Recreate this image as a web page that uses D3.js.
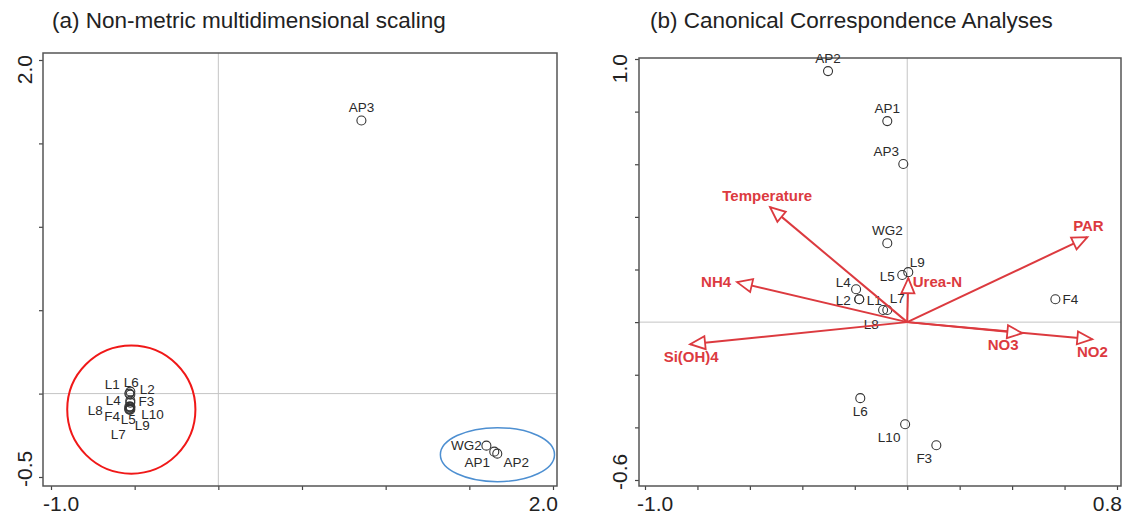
<!DOCTYPE html>
<html lang="en">
<head>
    <meta charset="UTF-8">
    <script src="https://d3js.org/d3.v7.min.js"></script>
    <style>
        body { margin: 0; background: #fff; }
        text { font-family: "Liberation Sans", Arial, sans-serif; }
    </style>
</head>
<body>
    <svg id="chart" width="1125" height="517"></svg>
    <script>
        // (a) NMDS – sample scores and where their labels sit
        const nmdsSites  = ["AP3", "WG2", "AP1", "AP2", "L1", "L6", "L2", "L4", "F3", "L8", "F4", "L5", "L10", "L9", "L7"];
        const nmdsX      = [0.855, 1.602, 1.649, 1.667, -0.532, -0.526, -0.526, -0.526, -0.526, -0.532, -0.532, -0.526, -0.526, -0.532, -0.526];
        const nmdsY      = [1.637, -0.312, -0.348, -0.360, 0.000, 0.012, -0.006, -0.042, -0.054, -0.078, -0.090, -0.084, -0.096, -0.096, -0.078];
        const nmdsLabelX = [0.855, 1.482, 1.548, 1.781, -0.634, -0.520, -0.424, -0.628, -0.430, -0.735, -0.634, -0.538, -0.394, -0.454, -0.598];
        const nmdsLabelY = [1.715, -0.312, -0.414, -0.414, 0.054, 0.066, 0.024, -0.042, -0.048, -0.102, -0.138, -0.156, -0.126, -0.192, -0.246];
        const nmdsXTicks = [-1.0, -0.5, 0.0, 0.5, 1.0, 1.5, 2.0];
        const nmdsYTicks = [-0.5, 0.0, 0.5, 1.0, 1.5, 2.0];
        const nmdsXTickLabels = ["-1.0", "2.0"];
        const nmdsYTickLabels = ["-0.5", "2.0"];

        // groups circled by hand in (a)
        const groupNames = ["lake", "pond"];
        const groupCX = [-0.520, 1.668];
        const groupCY = [-0.096, -0.366];
        const groupRX = [0.383, 0.341];
        const groupRY = [0.384, 0.162];

        // (b) CCA – sample scores
        const ccaSites  = ["AP2", "AP1", "AP3", "WG2", "L9", "L5", "L4", "L2", "L1", "L7", "L8", "L6", "L10", "F3", "F4"];
        const ccaX      = [-0.302, -0.076, -0.015, -0.076, 0.004, -0.019, -0.195, -0.183, -0.092, -0.076, -0.183, -0.179, -0.008, 0.111, 0.565];
        const ccaY      = [0.954, 0.764, 0.601, 0.300, 0.190, 0.179, 0.125, 0.087, 0.046, 0.046, 0.087, -0.289, -0.388, -0.468, 0.087];
        const ccaLabelX = [-0.302, -0.076, -0.080, -0.076, 0.038, -0.076, -0.244, -0.244, -0.126, -0.038, -0.137, -0.179, -0.069, 0.065, 0.622];
        const ccaLabelY = [1.004, 0.814, 0.650, 0.350, 0.228, 0.175, 0.152, 0.084, 0.084, 0.091, -0.008, -0.338, -0.437, -0.517, 0.087];

        // (b) environmental vectors
        const envVars   = ["Temperature", "PAR", "NH4", "Urea-N", "Si(OH)4", "NO3", "NO2"];
        const envX      = [-0.523, 0.687, -0.649, 0.004, -0.828, 0.439, 0.706];
        const envY      = [0.437, 0.323, 0.152, 0.167, -0.084, -0.042, -0.065];
        const envLabelX = [-0.534, 0.691, -0.729, 0.115, -0.824, 0.366, 0.706];
        const envLabelY = [0.479, 0.365, 0.152, 0.152, -0.133, -0.087, -0.114];
        const ccaXTicks = [-1.0, -0.8, -0.6, -0.4, -0.2, 0.0, 0.2, 0.4, 0.6, 0.8];
        const ccaYTicks = [-0.6, -0.4, -0.2, 0.0, 0.2, 0.4, 0.6, 0.8, 1.0];
        const ccaXTickLabels = ["-1.0", "0.8"];
        const ccaYTickLabels = ["-0.6", "1.0"];

        const red = "#dc3a3f";
        const svg = d3.select("#chart");

        function panel(opt) {
            const g = svg.append("g");
            const x = d3.scaleLinear().domain(opt.xDomain).range(opt.xRange);
            const y = d3.scaleLinear().domain(opt.yDomain).range(opt.yRange);
            const b = opt.box;

            svg.append("text")
                .attr("x", opt.titleX).attr("y", 28)
                .style("font-size", "22.5px").attr("fill", "#222")
                .text(opt.title);

            // zero lines
            g.append("line")
                .attr("x1", x(0)).attr("x2", x(0)).attr("y1", b.top).attr("y2", b.bottom)
                .attr("stroke", "#c4c4c4").attr("stroke-width", 1);
            g.append("line")
                .attr("x1", b.left).attr("x2", b.right).attr("y1", y(0)).attr("y2", y(0))
                .attr("stroke", "#c4c4c4").attr("stroke-width", 1);

            // ticks
            const ax = g.append("g")
                .attr("transform", `translate(0,${b.bottom})`)
                .call(d3.axisBottom(x).tickValues(opt.xTicks).tickSize(4).tickFormat(""));
            const ay = g.append("g")
                .attr("transform", `translate(${b.left},0)`)
                .call(d3.axisLeft(y).tickValues(opt.yTicks).tickSize(4).tickFormat(""));
            [ax, ay].forEach(a => {
                a.select(".domain").remove();
                a.selectAll("line").attr("stroke", "#444").attr("stroke-width", 1.2);
            });

            g.append("rect")
                .attr("x", b.left).attr("y", b.top)
                .attr("width", b.right - b.left).attr("height", b.bottom - b.top)
                .attr("fill", "none").attr("stroke", "#555").attr("stroke-width", 1.5);

            // only the end ticks are labelled
            const xl = opt.xTickLabels;
            g.append("text").attr("x", x(+xl[0]) - 8).attr("y", 511)
                .style("font-size", "21px").attr("fill", "#222").text(xl[0]);
            g.append("text").attr("x", x(+xl[1]) + 5).attr("y", 511).attr("text-anchor", "end")
                .style("font-size", "21px").attr("fill", "#222").text(xl[1]);
            const yl = opt.yTickLabels;
            g.append("text").attr("transform", `translate(${opt.yLabelX},${y(+yl[0]) + 10}) rotate(-90)`)
                .style("font-size", "21px").attr("fill", "#222").text(yl[0]);
            g.append("text").attr("transform", `translate(${opt.yLabelX},${y(+yl[1]) - 5}) rotate(-90)`)
                .attr("text-anchor", "end")
                .style("font-size", "21px").attr("fill", "#222").text(yl[1]);

            return { g, x, y };
        }

        function sites(p, names, xs, ys, lx, ly) {
            const data = names.map((n, i) => ({ n, x: xs[i], y: ys[i], lx: lx[i], ly: ly[i] }));
            p.g.selectAll(".pt").data(data).enter().append("circle")
                .attr("cx", d => p.x(d.x)).attr("cy", d => p.y(d.y)).attr("r", 4.5)
                .attr("fill", "none").attr("stroke", "#333").attr("stroke-width", 1.1);
            p.g.selectAll(".lab").data(data).enter().append("text")
                .attr("x", d => p.x(d.lx)).attr("y", d => p.y(d.ly)).attr("dy", "0.35em")
                .attr("text-anchor", "middle")
                .style("font-size", "13.5px").attr("fill", "#2a2a2a")
                .text(d => d.n);
        }

        // ---------- (a) ----------
        const pa = panel({
            title: "(a) Non-metric multidimensional scaling", titleX: 52,
            xDomain: [-1, 2], xRange: [51, 553],
            yDomain: [-0.5, 2], yRange: [477, 60],
            box: { left: 43, right: 557, top: 53, bottom: 486 },
            xTicks: nmdsXTicks, yTicks: nmdsYTicks,
            xTickLabels: nmdsXTickLabels, yTickLabels: nmdsYTickLabels, yLabelX: 32
        });

        pa.g.selectAll(".grp").data(groupNames).enter().append("ellipse")
            .attr("cx", (d, i) => pa.x(groupCX[i]))
            .attr("cy", (d, i) => pa.y(groupCY[i]))
            .attr("rx", (d, i) => pa.x(groupRX[i]) - pa.x(0))
            .attr("ry", (d, i) => pa.y(0) - pa.y(groupRY[i]))
            .attr("fill", "none")
            .attr("stroke", (d, i) => i === 0 ? "#f01818" : "#4d8fd1")
            .attr("stroke-width", (d, i) => i === 0 ? 2 : 1.5);

        sites(pa, nmdsSites, nmdsX, nmdsY, nmdsLabelX, nmdsLabelY);

        // ---------- (b) ----------
        const pb = panel({
            title: "(b) Canonical Correspondence Analyses", titleX: 650,
            xDomain: [-1, 0.8], xRange: [645, 1117],
            yDomain: [-0.6, 1.0], yRange: [480, 59],
            box: { left: 639, right: 1121, top: 58, bottom: 486 },
            xTicks: ccaXTicks, yTicks: ccaYTicks,
            xTickLabels: ccaXTickLabels, yTickLabels: ccaYTickLabels, yLabelX: 627
        });

        sites(pb, ccaSites, ccaX, ccaY, ccaLabelX, ccaLabelY);

        const env = envVars.map((n, i) => ({ n, x: envX[i], y: envY[i], lx: envLabelX[i], ly: envLabelY[i] }));
        const ox = pb.x(0), oy = pb.y(0);
        pb.g.selectAll(".vec").data(env).enter().append("line")
            .attr("x1", ox).attr("y1", oy)
            .attr("x2", d => pb.x(d.x)).attr("y2", d => pb.y(d.y))
            .attr("stroke", red).attr("stroke-width", 2);
        pb.g.selectAll(".head").data(env).enter().append("path")
            .attr("d", d => {
                const tx = pb.x(d.x), ty = pb.y(d.y);
                const a = Math.atan2(ty - oy, tx - ox);
                const L = 15, W = 6.5;
                const bx = tx - L * Math.cos(a), by = ty - L * Math.sin(a);
                const px = -Math.sin(a) * W, py = Math.cos(a) * W;
                return `M${tx},${ty}L${bx + px},${by + py}L${bx - px},${by - py}Z`;
            })
            .attr("fill", "#fff").attr("stroke", red).attr("stroke-width", 1.8)
            .attr("stroke-linejoin", "miter");
        pb.g.selectAll(".envlab").data(env).enter().append("text")
            .attr("x", d => pb.x(d.lx)).attr("y", d => pb.y(d.ly)).attr("dy", "0.35em")
            .attr("text-anchor", "middle")
            .style("font-size", "15px").style("font-weight", "bold").attr("fill", red)
            .text(d => d.n);
    </script>
</body>
</html>
